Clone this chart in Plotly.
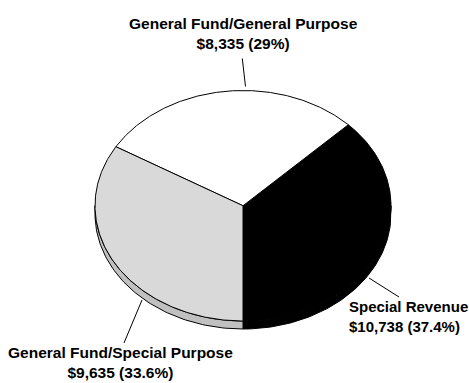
import numpy as np
import plotly.graph_objects as go

# ---- data ----
categories = ["Special Revenue", "General Fund/General Purpose", "General Fund/Special Purpose"]
amounts = [10738, 8335, 9635]
pct_labels = ["37.4%", "29%", "33.6%"]
face_colors = ["#000000", "#ffffff", "#d9d9d9"]
side_colors = ["#000000", "#ffffff", "#c0c0c0"]

W, H = 469, 383
cx, cy, rx, ry, depth = 243.0, 205.75, 148.0, 115.25, 8.0
start_deg = -90.0

total = float(sum(amounts))
fig = go.Figure()

def pt(t_deg, dy=0.0):
    t = np.radians(t_deg)
    return cx + rx * np.cos(t), cy - ry * np.sin(t) + dy

bounds = []
a = start_deg
for v in amounts:
    b = a + v / total * 360.0
    bounds.append((a, b))
    a = b

# sides (visible lower half: 180..360 deg)
for (a0, a1), sc in zip(bounds, side_colors):
    for shift in (0, 360, -360):
        lo = max(a0 + shift, 180.0)
        hi = min(a1 + shift, 360.0)
        if hi > lo:
            ts = np.linspace(lo, hi, 80)
            xs_top, ys_top = pt(ts)
            xs_bot, ys_bot = pt(ts[::-1], depth)
            xs = np.concatenate([xs_top, xs_bot, xs_top[:1]])
            ys = np.concatenate([ys_top, ys_bot, ys_top[:1]])
            fig.add_trace(go.Scatter(x=xs, y=ys, mode="lines", fill="toself",
                                     fillcolor=sc, line=dict(color="#000000", width=1),
                                     hoverinfo="skip", showlegend=False))

# top faces
for (a0, a1), fc in zip(bounds, face_colors):
    ts = np.linspace(a0, a1, 200)
    xs, ys = pt(ts)
    xs = np.concatenate([[cx], xs, [cx]])
    ys = np.concatenate([[cy], ys, [cy]])
    fig.add_trace(go.Scatter(x=xs, y=ys, mode="lines", fill="toself",
                             fillcolor=fc, line=dict(color="#000000", width=1),
                             hoverinfo="skip", showlegend=False))

font = dict(family="Liberation Sans, Arial, sans-serif", size=15.5, color="#000000")

def label(i):
    return "<b>%s<br>$%s (%s)</b>" % (categories[i], f"{amounts[i]:,}", pct_labels[i])

annotations = [
    dict(x=243, y=33, text=label(1), xanchor="center", yanchor="middle", align="center"),
    dict(x=347, y=316, text=label(0), xanchor="left", yanchor="middle", align="left",
         font=dict(family="Liberation Sans, Arial, sans-serif", size=15, color="#000000")),
    dict(x=120, y=362, text=label(2), xanchor="center", yanchor="middle", align="center"),
]
for an in annotations:
    an.setdefault("font", font)
    an.update(xref="x", yref="y", showarrow=False)

leaders = [((242.3, 58.5), (245.5, 86.5)),
           ((369.0, 278.0), (399.0, 297.0)),
           ((142.0, 300.0), (124.0, 343.0))]
shapes = [dict(type="line", xref="x", yref="y", x0=p[0], y0=p[1], x1=q[0], y1=q[1],
               line=dict(color="#000000", width=1)) for p, q in leaders]

fig.update_layout(
    width=W, height=H, margin=dict(l=0, r=0, t=0, b=0),
    paper_bgcolor="#ffffff", plot_bgcolor="#ffffff",
    xaxis=dict(range=[0, W], visible=False, fixedrange=True),
    yaxis=dict(range=[H, 0], visible=False, fixedrange=True),
    annotations=annotations, shapes=shapes, showlegend=False,
)
fig.write_html("out.html")
